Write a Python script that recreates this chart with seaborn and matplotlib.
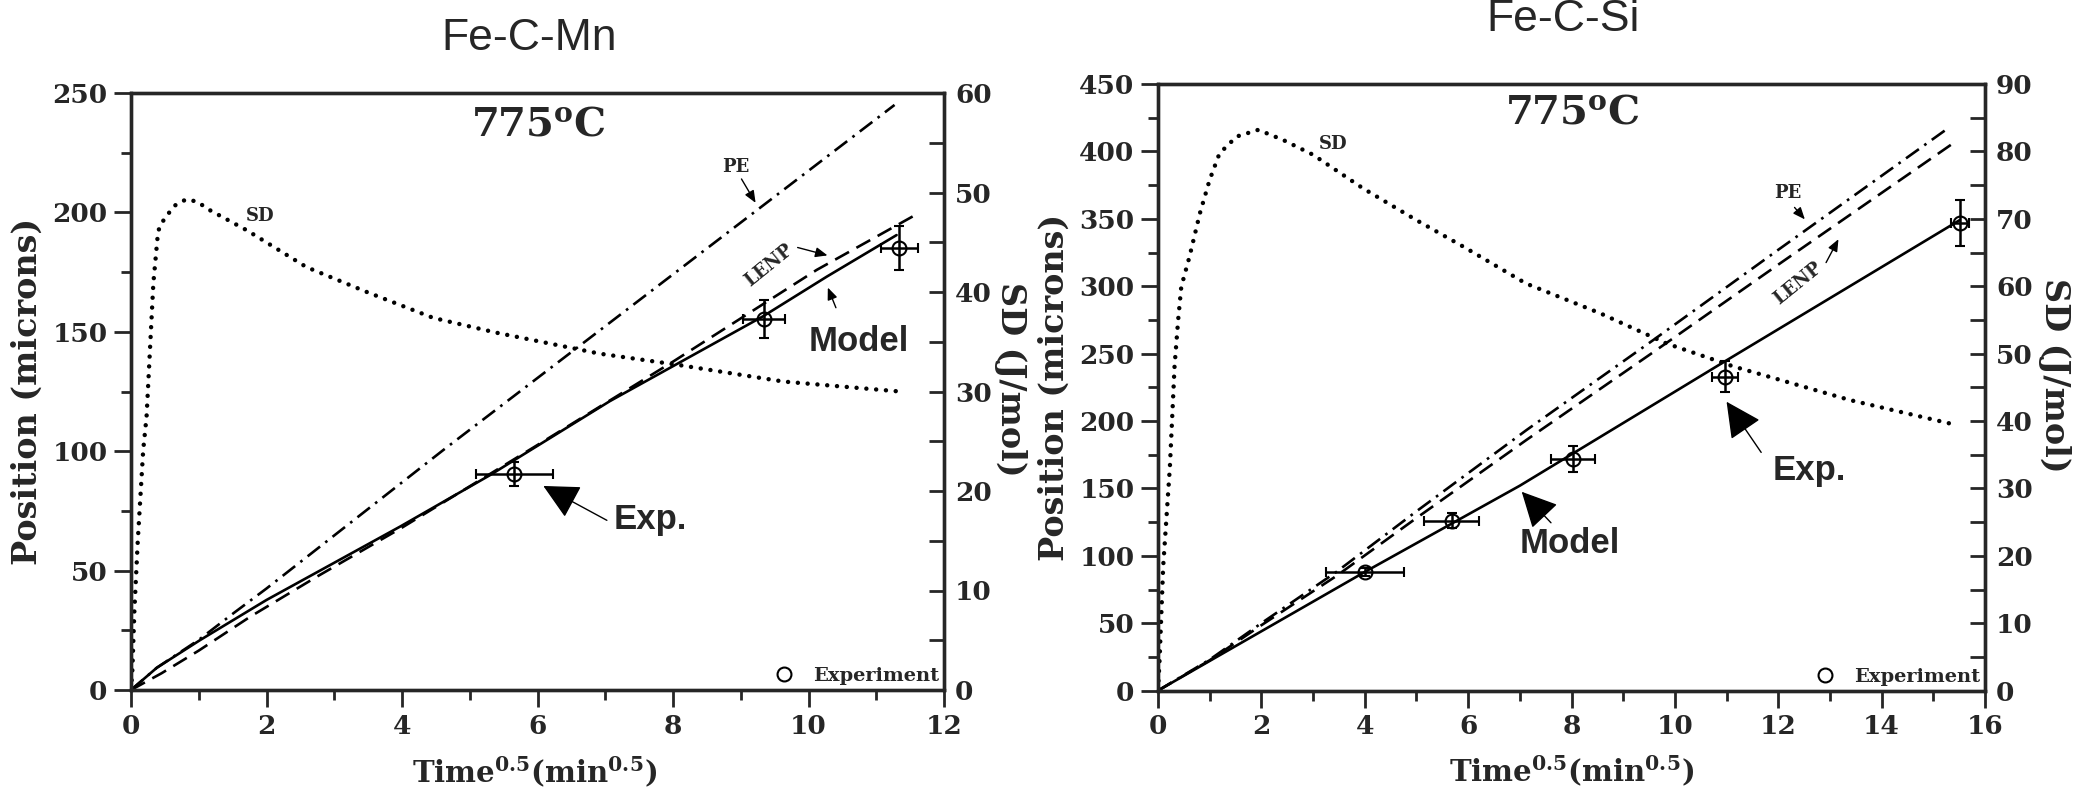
"""
Ferrite growth kinetics at 775 C: Fe-C-Mn and Fe-C-Si interface position
and stored driving force (SD) versus square root of time.
"""

import matplotlib
matplotlib.use("Agg")
import matplotlib.pyplot as plt
import seaborn as sns
from matplotlib.lines import Line2D
from matplotlib.ticker import MultipleLocator

# ---------------- Fe-C-Mn data ----------------
mn_model_x = [0, 0.38, 1.02, 2.0, 3.97, 5.3, 7.07, 9.33, 10.27, 11.3]
mn_model_y = [0, 9.3, 20.9, 37.7, 68.4, 90.0, 121.0, 156.5, 173.1, 190.5]
mn_lenp_x = [0, 0.45, 1.0, 1.76, 2.74, 4.0, 6.0, 8.0, 10.12, 11.55]
mn_lenp_y = [0, 7.0, 16.5, 30.7, 47.4, 68.0, 102.6, 137.5, 175.9, 198.5]
mn_pe_x = [0, 0.38, 1.0, 1.51, 2.0, 4.61, 11.27]
mn_pe_y = [0, 9.3, 21.0, 32.1, 42.5, 100.5, 245.0]
mn_sd_x = [0, 0.02, 0.05, 0.1, 0.18, 0.23, 0.28, 0.33, 0.40, 0.45, 0.53, 0.65,
           0.81, 0.97, 1.17, 1.71, 2.59, 3.48, 4.46, 5.40, 6.92, 8.05, 9.63, 11.35]
mn_sd_y = [0, 2.0, 8.0, 15.0, 24.1, 27.5, 34.2, 40.9, 46.1, 46.9, 47.7, 48.7,
           49.3, 49.1, 48.2, 46.2, 42.5, 40.0, 37.4, 35.9, 33.8, 32.7, 31.0, 30.0]
mn_exp_x = [5.66, 9.35, 11.34]
mn_exp_y = [90.6, 155.2, 185.2]
mn_exp_xerr = [0.57, 0.31, 0.27]
mn_exp_yerr = [5.0, 8.0, 9.3]

# ---------------- Fe-C-Si data ----------------
si_model_x = [0, 4.0, 7.0, 11.0, 15.51]
si_model_y = [0, 88.0, 152.0, 245.0, 349.0]
si_lenp_x = [0, 1.0, 2.0, 3.45, 5.0, 7.13, 9.58, 12.0, 15.42]
si_lenp_y = [0, 22.5, 48.5, 85.0, 128.0, 186.0, 251.0, 316.0, 407.0]
si_pe_x = [0, 1.0, 2.0, 3.45, 5.0, 7.13, 9.58, 12.0, 15.22]
si_pe_y = [0, 23.0, 50.0, 88.0, 133.0, 193.3, 260.0, 327.0, 415.4]
si_sd_x = [0, 0.03, 0.1, 0.23, 0.29, 0.32, 0.39, 0.45, 0.61, 0.81, 1.0, 1.19,
           1.52, 1.94, 2.42, 3.0, 3.97, 5.0, 5.9, 7.12, 8.55, 9.84, 11.13, 13.39, 15.45]
si_sd_y = [0, 4.5, 18.4, 33.2, 43.1, 48.1, 55.0, 59.9, 64.4, 70.8, 75.8, 79.7,
           82.2, 83.2, 81.7, 79.5, 74.5, 69.8, 65.9, 60.4, 56.0, 51.5, 48.1, 43.1, 39.4]
si_exp_x = [4.0, 5.68, 8.03, 10.97, 15.52]
si_exp_y = [88.2, 126.0, 171.6, 232.9, 346.7]
si_exp_xerr = [0.75, 0.54, 0.42, 0.26, 0.18]
si_exp_yerr = [3.0, 5.5, 9.5, 11.7, 17.0]

sns.set_theme(style="ticks")
plt.rcParams["font.family"] = ["DejaVu Serif"]
plt.rcParams["font.weight"] = "bold"
plt.rcParams["mathtext.fontset"] = "dejavuserif"

LW = 1.9
DASHDOT = (0, (6, 2.5, 1, 2.5))
DASHED = (0, (6, 3.2))
DOTTED = (0, (0.01, 2.2))
SANS = ["Liberation Sans", "DejaVu Sans"]
TICK_SIZE = 19
LABEL_SIZE = 24


def draw_panel(ax, d, xmax, ymax, sdmax):
    """Draw the model lines, SD curve and experimental points of one panel."""
    ax2 = ax.twinx()
    sns.lineplot(x=d["model_x"], y=d["model_y"], ax=ax, color="black", lw=LW, sort=False)
    sns.lineplot(x=d["lenp_x"], y=d["lenp_y"], ax=ax, color="black", lw=LW,
                 linestyle=DASHED, sort=False)
    sns.lineplot(x=d["pe_x"], y=d["pe_y"], ax=ax, color="black", lw=LW,
                 linestyle=DASHDOT, sort=False)
    sns.lineplot(x=d["sd_x"], y=d["sd_y"], ax=ax2, color="black", lw=3.2,
                 linestyle=DOTTED, dash_capstyle="round", sort=False)
    ax.errorbar(d["exp_x"], d["exp_y"], xerr=d["exp_xerr"], yerr=d["exp_yerr"],
                fmt="o", ms=10, mfc="none", mec="black", mew=1.5, ecolor="black",
                elinewidth=1.8, capsize=3.5, capthick=1.8, zorder=5)

    ax.set_xlim(0, xmax)
    ax.set_ylim(0, ymax)
    ax2.set_ylim(0, sdmax)
    ax.xaxis.set_major_locator(MultipleLocator(2))
    ax.xaxis.set_minor_locator(MultipleLocator(1))
    ax.yaxis.set_major_locator(MultipleLocator(50))
    ax.yaxis.set_minor_locator(MultipleLocator(25))
    ax2.yaxis.set_major_locator(MultipleLocator(10))
    ax2.yaxis.set_minor_locator(MultipleLocator(5))
    ax.tick_params(which="major", direction="out", length=12, width=2,
                   labelsize=TICK_SIZE, top=False, right=False, pad=5)
    ax.tick_params(which="minor", direction="out", length=7, width=2, top=False, right=False)
    ax2.tick_params(which="major", direction="in", length=11, width=2,
                    labelsize=TICK_SIZE, pad=8)
    ax2.tick_params(which="minor", direction="in", length=11, width=2)
    for a in (ax, ax2):
        for s in a.spines.values():
            s.set_visible(True)
            s.set_linewidth(2.4)

    ax.set_xlabel(r"Time$^{\mathbf{0.5}}$(min$^{\mathbf{0.5}}$)", fontsize=21,
                  fontweight="bold", va="center")
    ax.set_ylabel("Position (microns)", fontsize=LABEL_SIZE, fontweight="bold",
                  va="center")
    ax2.set_ylabel("SD (J/mol)", fontsize=LABEL_SIZE, fontweight="bold", rotation=270,
                   va="center", ha="center")
    ax.legend(handles=[Line2D([], [], marker="o", ls="", ms=10, mfc="none", mec="black",
                              mew=1.5)],
              labels=["Experiment"], loc="lower right", frameon=False,
              prop={"size": 14, "weight": "bold"}, handletextpad=1.0,
              borderaxespad=0.05, borderpad=0.2, handlelength=1.0)
    return ax2


fig = plt.figure(figsize=(20.75, 7.95), dpi=100)

# ---------------- left panel: Fe-C-Mn ----------------
ax_mn = fig.add_axes([131 / 2075, 105 / 795, 813 / 2075, 597 / 795])
mn = dict(model_x=mn_model_x, model_y=mn_model_y, lenp_x=mn_lenp_x, lenp_y=mn_lenp_y,
          pe_x=mn_pe_x, pe_y=mn_pe_y, sd_x=mn_sd_x, sd_y=mn_sd_y,
          exp_x=mn_exp_x, exp_y=mn_exp_y, exp_xerr=mn_exp_xerr, exp_yerr=mn_exp_yerr)
ax2_mn = draw_panel(ax_mn, mn, 12, 250, 60)
ax_mn.yaxis.set_label_coords(-0.128, 0.5)
ax2_mn.yaxis.set_label_coords(1.082, 0.52)
ax_mn.xaxis.set_label_coords(0.496, -0.136)

ax_mn.text(6.02, 237, r"775$^{\mathbf{o}}$C", fontsize=29, ha="center", va="center")
ax_mn.text(1.9, 198.5, "SD", fontsize=13, ha="center", va="center")
ax_mn.text(8.92, 219, "PE", fontsize=13, ha="center", va="center")
ax_mn.text(9.41, 178, "LENP", fontsize=13, ha="center", va="center", rotation=39)
ax_mn.text(10.74, 145.8, "Model", fontsize=25, ha="center", va="center",
           family=SANS, fontweight="bold")
ax_mn.text(7.66, 71.6, "Exp.", fontsize=25, ha="center", va="center",
           family=SANS, fontweight="bold")
thin = dict(arrowstyle="-|>,head_length=0.6,head_width=0.25", color="black", lw=1,
            mutation_scale=12)
big = dict(arrowstyle="-|>,head_length=0.8,head_width=0.4", color="black", lw=1,
           mutation_scale=28)
ax_mn.annotate("", xy=(9.24, 203), xytext=(8.99, 215), arrowprops=thin)
ax_mn.annotate("", xy=(10.32, 181.7), xytext=(9.8, 185.6), arrowprops=thin)
ax_mn.annotate("", xy=(10.27, 169.6), xytext=(10.42, 159), arrowprops=thin)
ax_mn.annotate("", xy=(6.05, 86), xytext=(7.06, 70.5), arrowprops=big)

# ---------------- right panel: Fe-C-Si ----------------
ax_si = fig.add_axes([1158 / 2075, 104.4 / 795, 827 / 2075, 606.6 / 795])
si = dict(model_x=si_model_x, model_y=si_model_y, lenp_x=si_lenp_x, lenp_y=si_lenp_y,
          pe_x=si_pe_x, pe_y=si_pe_y, sd_x=si_sd_x, sd_y=si_sd_y,
          exp_x=si_exp_x, exp_y=si_exp_y, exp_xerr=si_exp_xerr, exp_yerr=si_exp_yerr)
ax2_si = draw_panel(ax_si, si, 16, 450, 90)
ax_si.yaxis.set_label_coords(-0.125, 0.5)
ax2_si.yaxis.set_label_coords(1.084, 0.52)
ax_si.xaxis.set_label_coords(0.5, -0.1325)

ax_si.text(8.01, 428.8, r"775$^{\mathbf{o}}$C", fontsize=29, ha="center", va="center")
ax_si.text(3.39, 405.5, "SD", fontsize=13, ha="center", va="center")
ax_si.text(12.19, 369, "PE", fontsize=13, ha="center", va="center")
ax_si.text(12.38, 302, "LENP", fontsize=13, ha="center", va="center", rotation=39)
ax_si.text(7.97, 109, "Model", fontsize=25, ha="center", va="center",
           family=SANS, fontweight="bold")
ax_si.text(12.61, 163, "Exp.", fontsize=25, ha="center", va="center",
           family=SANS, fontweight="bold")
ax_si.annotate("", xy=(12.55, 348), xytext=(12.28, 360), arrowprops=thin)
ax_si.annotate("", xy=(13.19, 336.7), xytext=(12.9, 315.7), arrowprops=thin)
ax_si.annotate("", xy=(7.0, 149), xytext=(7.64, 123), arrowprops=big)
ax_si.annotate("", xy=(10.97, 216), xytext=(11.7, 175), arrowprops=big)

# panel titles
fig.text(529 / 2075, 1 - 50 / 795, "Fe-C-Mn", fontsize=32, ha="center", va="baseline",
         family=SANS, fontweight="normal")
fig.text(1563 / 2075, 1 - 31 / 795, "Fe-C-Si", fontsize=32, ha="center", va="baseline",
         family=SANS, fontweight="normal")

fig.savefig("out.png", dpi=100, facecolor="white")
